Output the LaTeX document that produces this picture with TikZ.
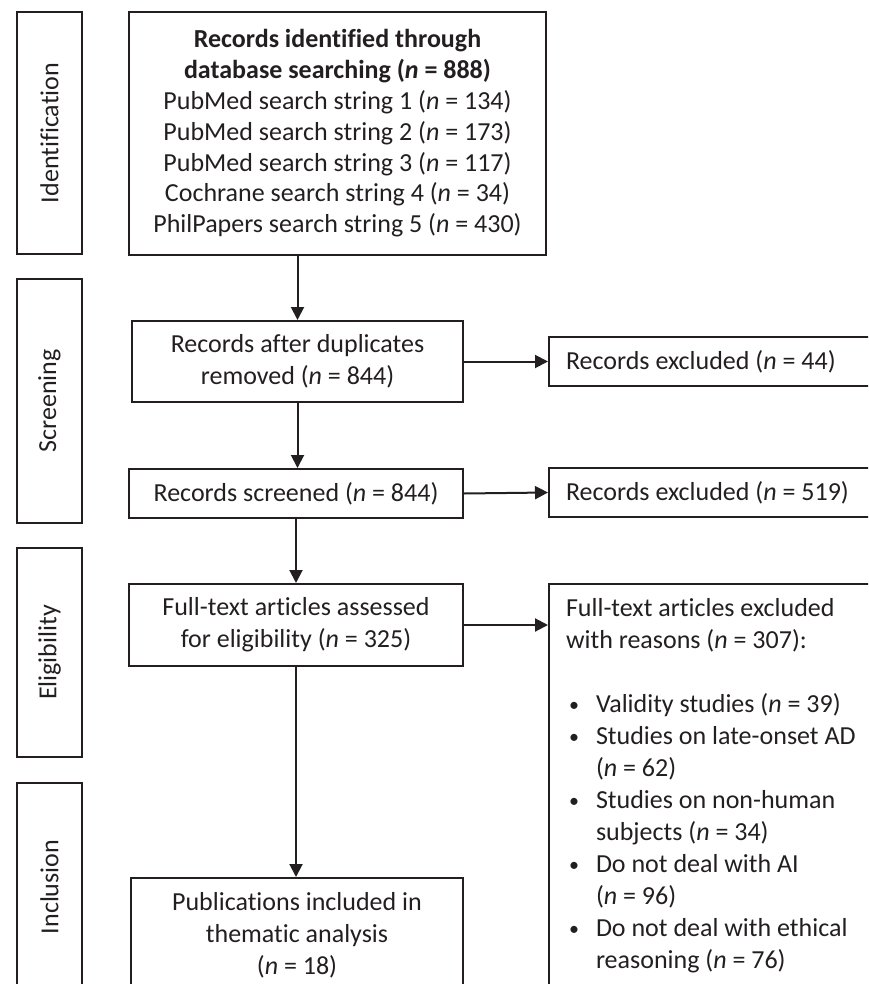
\documentclass[tikz,border=0pt]{standalone}
\usepackage{fontspec}
\setmainfont{Carlito}[Ligatures={NoCommon,NoRequired,NoContextual}]
\usetikzlibrary{arrows.meta}
\definecolor{ink}{HTML}{231F20}

\begin{document}
\begin{tikzpicture}[x=0.5pt, y=-0.5pt,
  every node/.style={font=\fontsize{13}{16}\selectfont, text=ink},
  stage/.style={draw=ink, line width=1pt, rotate=90, minimum height=32.5pt, inner sep=0pt},
  mainbox/.style={draw=ink, line width=1pt, align=center, inner sep=0pt},
  sidebox/.style={draw=ink, line width=1pt, anchor=west, align=flush left, text width=160pt, inner xsep=8.5pt, inner ysep=0pt},
  arr/.style={draw=ink, line width=1pt, -{Triangle[width=6.5pt,length=6.5pt]}}]
\useasboundingbox (0,0) rectangle (868,984);
\clip (0,0) rectangle (868,984);

\node[stage, minimum width=121pt] (ident) at (49.5,133) {Identification};
\node[stage, minimum width=122pt] (screen) at (49.5,401) {Screening};
\node[stage, minimum width=104.5pt] (elig) at (49.5,652.5) {Eligibility};
\node[stage, minimum width=104pt] (incl) at (49.5,887) {Inclusion};

\node[mainbox, minimum width=208.5pt, minimum height=121.5pt, font=\fontsize{13}{15.4}\selectfont] (search) at (337.5,133.5)
  {\textbf{Records identified through}\\
   \textbf{database searching (\textit{n} = 888)}\\
   PubMed search string 1 (\textit{n} = 134)\\
   PubMed search string 2 (\textit{n} = 173)\\
   PubMed search string 3 (\textit{n} = 117)\\
   Cochrane search string 4 (\textit{n} = 34)\\
   PhilPapers search string 5 (\textit{n} = 430)};
\node[mainbox, minimum width=165.5pt, minimum height=40.5pt] (dup) at (297.5,361.5)
  {Records after duplicates\\ removed (\textit{n} = 844)};
\node[mainbox, minimum width=167pt, minimum height=24.5pt] (screened) at (296,493.5)
  {Records screened (\textit{n} = 844)};
\node[mainbox, minimum width=167pt, minimum height=41pt] (fulltext) at (296,625)
  {Full-text articles assessed\\ for eligibility (\textit{n} = 325)};
\node[mainbox, minimum width=166pt, minimum height=57pt] (pubs) at (297,935)
  {Publications included in\\ thematic analysis\\ (\textit{n} = 18)};

\node[sidebox, minimum height=24.5pt] (excl1) at (548,361.5) {Records excluded (\textit{n} = 44)};
\node[sidebox, minimum height=24.5pt] (excl2) at (548,492.5) {Records excluded (\textit{n} = 519)};
\node[sidebox, minimum height=202pt] (excl3) at (548,786)
  {Full-text articles excluded\\
   with reasons (\textit{n} = 307):\\[16pt]
   \makebox[15pt][l]{\hspace{1.5pt}\raisebox{0.6pt}{\fontsize{10}{16}\selectfont\textbullet}}Validity studies (\textit{n} = 39)\\
   \makebox[15pt][l]{\hspace{1.5pt}\raisebox{0.6pt}{\fontsize{10}{16}\selectfont\textbullet}}Studies on late-onset AD\\
   \makebox[15pt][l]{}(\textit{n} = 62)\\
   \makebox[15pt][l]{\hspace{1.5pt}\raisebox{0.6pt}{\fontsize{10}{16}\selectfont\textbullet}}Studies on non-human\\
   \makebox[15pt][l]{}subjects (\textit{n} = 34)\\
   \makebox[15pt][l]{\hspace{1.5pt}\raisebox{0.6pt}{\fontsize{10}{16}\selectfont\textbullet}}Do not deal with AI\\
   \makebox[15pt][l]{}(\textit{n} = 96)\\
   \makebox[15pt][l]{\hspace{1.5pt}\raisebox{0.6pt}{\fontsize{10}{16}\selectfont\textbullet}}Do not deal with ethical\\
   \makebox[15pt][l]{}reasoning (\textit{n} = 76)};

\draw[arr] (dup |- search.south) -- (dup.north);
\draw[arr] (dup.south) -- (dup.south |- screened.north);
\draw[arr] (screened.south) -- (fulltext.north);
\draw[arr] (fulltext.south) -- (fulltext.south |- pubs.north);
\draw[arr] (dup.east) -- (excl1.west);
\draw[arr] (screened.east) -- (excl2.west);
\draw[arr] (fulltext.east) -- (fulltext.east -| excl3.west);
\end{tikzpicture}
\end{document}
